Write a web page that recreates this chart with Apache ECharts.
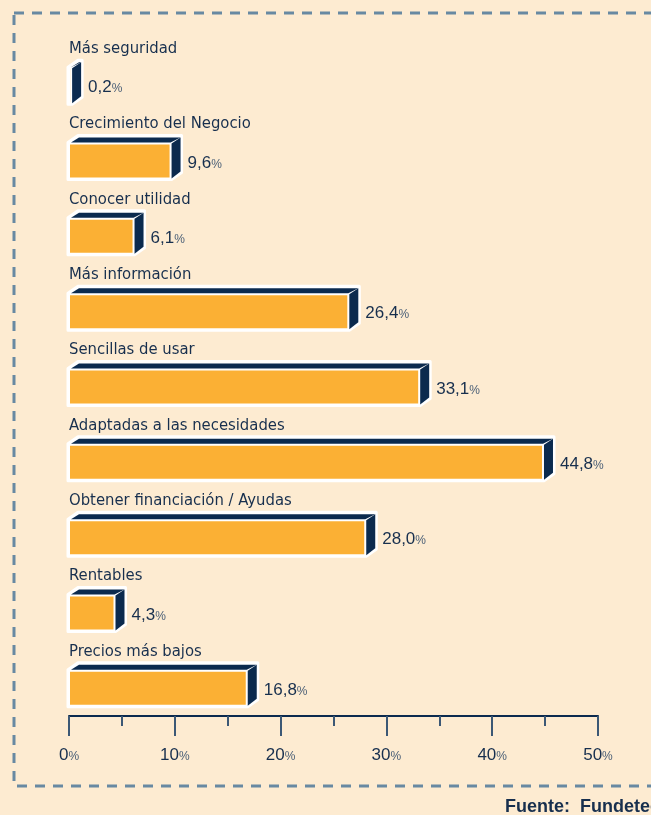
<!DOCTYPE html>
<html>
<head>
<meta charset="utf-8">
<script src="https://cdn.jsdelivr.net/npm/echarts@6/dist/echarts.min.js"></script>
<style>
  html, body { margin: 0; padding: 0; background: #fdebd1; }
  #chart { width: 651px; height: 815px; }
</style>
</head>
<body>
<div id="chart"></div>
<script>
// data, top to bottom
const categories = [
  'Más seguridad',
  'Crecimiento del Negocio',
  'Conocer utilidad',
  'Más información',
  'Sencillas de usar',
  'Adaptadas a las necesidades',
  'Obtener financiación / Ayudas',
  'Rentables',
  'Precios más bajos'
]
const values = [0.2, 9.6, 6.1, 26.4, 33.1, 44.8, 28.0, 4.3, 16.8]
const axisTicks = [0, 10, 20, 30, 40, 50]

const ORANGE = '#fbb034'
const NAVY = '#0b2a4e'
const TEXT = '#172f4e'
const DX = 10, DY = 7, H = 35

const chart = echarts.init(document.getElementById('chart'))

function renderBar(params, api) {
  const idx = api.value(1)
  const v = api.value(0)
  const p0 = api.coord([0, idx])
  const p1 = api.coord([v, idx])
  const x0 = p0[0], x1 = p1[0]
  const cy = p0[1] + 10
  const top = cy - H / 2, bot = cy + H / 2
  const outline = [[x0 - 1, bot + 1], [x0 - 1, top - 1], [x0 + DX - 1, top - DY - 1],
    [x1 + DX + 1, top - DY - 1], [x1 + DX + 1, bot - DY + 1], [x1 + 1, bot + 1]]
  const label = values[idx].toFixed(1).replace('.', ',')
  return {
    type: 'group',
    children: [
      { type: 'polygon', shape: { points: outline },
        style: { fill: '#ffffff', stroke: '#ffffff', lineWidth: 3, lineJoin: 'round' } },
      { type: 'polygon', shape: { points: [[x0 + 2, top - 1], [x0 + DX, top - DY + 1], [x1 + DX, top - DY + 1], [x1, top - 1]] },
        style: { fill: NAVY } },
      { type: 'polygon', shape: { points: [[x1 + 1, top], [x1 + DX, top - DY + 1], [x1 + DX, bot - DY], [x1 + 1, bot]] },
        style: { fill: NAVY } },
      { type: 'rect', shape: { x: x0 + 1, y: top + 1, width: Math.max(x1 - x0 - 2, 0), height: H - 2 },
        style: { fill: ORANGE } },
      { type: 'text', x: x0, y: cy - 37,
        style: { text: categories[idx], fill: TEXT, font: '16.5px "Liberation Sans Narrow", "DejaVu Sans Condensed", sans-serif',
          verticalAlign: 'middle', align: 'left' } },
      { type: 'text', x: x1 + DX + 7, y: cy + 2,
        style: { text: '{n|' + label + '}{p|%}', verticalAlign: 'middle', align: 'left',
          rich: {
            n: { fill: TEXT, font: '17px "Liberation Sans", Arial, sans-serif' },
            p: { fill: '#4a5f77', font: '12px "Liberation Sans", Arial, sans-serif', padding: [3, 0, 0, 0] }
          } } }
    ]
  }
}

chart.setOption({
  backgroundColor: '#fdebd1',
  animation: false,
  grid: { left: 69, right: 53, top: 38, bottom: 99 },
  xAxis: {
    type: 'value', min: 0, max: 50, interval: 10,
    axisLine: { show: true, lineStyle: { color: NAVY, width: 2 } },
    axisTick: { show: true, length: 20, lineStyle: { color: '#3c5875', width: 2 } },
    minorTick: { show: true, splitNumber: 2, length: 10, lineStyle: { color: '#3c5875', width: 2 } },
    splitLine: { show: false },
    axisLabel: {
      margin: 31,
      formatter: v => axisTicks.includes(v) ? '{n|' + v + '}{p|%}' : '',
      rich: {
        n: { color: TEXT, fontSize: 17, fontFamily: '"Liberation Sans", Arial, sans-serif' },
        p: { color: '#4a5f77', fontSize: 12, fontFamily: '"Liberation Sans", Arial, sans-serif', padding: [3, 0, 0, 0] }
      }
    }
  },
  yAxis: { type: 'category', data: categories, inverse: true, show: false },
  graphic: [
    { type: 'rect', shape: { x: 14, y: 13, width: 700, height: 773 },
      style: { fill: 'none', stroke: '#6889a2', lineWidth: 3, lineDash: [10, 8] }, z: -1 },
    { type: 'text', left: 505, top: 798,
      style: { text: 'Fuente:  Fundetec', fill: TEXT, font: 'bold 18px "Liberation Sans", Arial, sans-serif' } }
  ],
  series: [{
    type: 'custom',
    renderItem: renderBar,
    data: values.map((v, i) => [v, i]),
    encode: { x: 0, y: 1 }
  }]
})
</script>
</body>
</html>
